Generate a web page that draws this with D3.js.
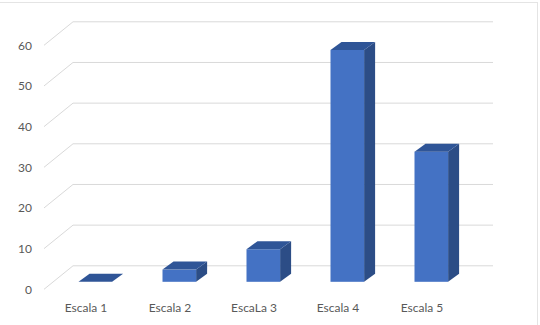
<!DOCTYPE html>
<html><head><meta charset="utf-8">
<script src="https://cdn.jsdelivr.net/npm/d3@7"></script>
<style>body{margin:0;background:#fff}svg{display:block}</style>
</head><body><svg id="c" width="540" height="325"></svg>
<script>
const categories = ["Escala 1","Escala 2","EscaLa 3","Escala 4","Escala 5"];
const values = [0, 3, 8, 57, 32];
const tickValues = [0,10,20,30,40,50,60];

const svg = d3.select("#c");
const W = 540, H = 325;
// frame
svg.append("rect").attr("x",-1).attr("y",2.5).attr("width",538.5).attr("height",330)
  .attr("fill","none").attr("stroke","#e4e4e4");

const x = d3.scaleBand().domain(categories).range([44, 464]).paddingInner(0).paddingOuter(0);
const y = d3.scaleLinear().domain([0,60]).range([289.3, 45.3]);
const depth = {dx:29, dy:-23.5};
const barOff = {dx:9.3, dy:-7.5};
const barDepth = {dx:11, dy:-8};
const bw = x.bandwidth()*0.4;

const grid = svg.append("g");
tickValues.forEach(t => {
  const fy = y(t);
  grid.append("path")
    .attr("d", `M${x.range()[0]},${fy}L${x.range()[0]+depth.dx},${fy+depth.dy}L${x.range()[1]+depth.dx},${fy+depth.dy}`)
    .attr("fill","none").attr("stroke","#d9d9d9").attr("stroke-width",1);
});

const font = "Lato, 'Liberation Sans', sans-serif";
svg.append("g").selectAll("text").data(tickValues).join("text")
  .attr("x",32).attr("y",d=>y(d)).attr("text-anchor","end").attr("dominant-baseline","central")
  .attr("font-family",font).attr("font-size",12).attr("fill","#595959").text(d=>d);

svg.append("g").selectAll("text").data(categories).join("text")
  .attr("x",d=>x(d)+x.bandwidth()/2).attr("y",307).attr("text-anchor","middle").attr("dominant-baseline","central")
  .attr("font-family",font).attr("font-size",12).attr("fill","#595959").text(d=>d);

const bars = svg.append("g").selectAll("g").data(categories.map((c,i)=>({c,v:values[i]}))).join("g");
bars.each(function(d){
  const g = d3.select(this);
  const x0 = x(d.c)+x.bandwidth()/2 - bw/2 + barOff.dx;
  const x1 = x0 + bw;
  const yb = y(0) + barOff.dy;
  const yt = y(d.v) + barOff.dy;
  const dx = barDepth.dx, dy = barDepth.dy;
  if (d.v > 0) {
    g.append("path").attr("d",`M${x1},${yb}L${x1+dx},${yb+dy}L${x1+dx},${yt+dy}L${x1},${yt}Z`).attr("fill","#2c4d86");
    g.append("rect").attr("x",x0).attr("y",yt).attr("width",bw).attr("height",yb-yt).attr("fill","#4472c4");
  }
  g.append("path").attr("d",`M${x0},${yt}L${x0+dx},${yt+dy}L${x1+dx},${yt+dy}L${x1},${yt}Z`).attr("fill","#2f5597");
});
</script>
</body></html>
